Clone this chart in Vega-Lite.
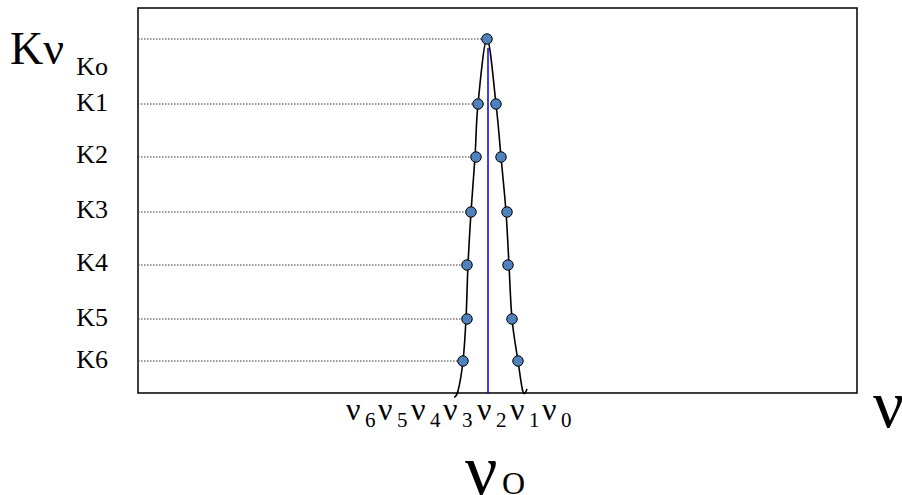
{
  "$schema": "https://vega.github.io/schema/vega-lite/v6.json",
  "width": 719,
  "height": 385,
  "autosize": {"type": "none"},
  "padding": {"left": 138, "top": 8, "right": 45, "bottom": 102},
  "background": "white",
  "config": {"view": {"stroke": "black", "strokeWidth": 1.5}, "text": {"font": "'Liberation Serif', 'DejaVu Serif', serif"}},
  "encoding": {
    "x": {"field": "x", "type": "quantitative", "scale": {"domain": [0, 719], "nice": false, "zero": false}, "axis": null},
    "y": {"field": "y", "type": "quantitative", "scale": {"domain": [0, 385], "nice": false, "zero": false}, "axis": null}
  },
  "datasets": {
    "levels": [
      {"k": "Ko", "x": 0, "y": 354, "xend": 344},
      {"k": "K1", "x": 0, "y": 289, "xend": 335},
      {"k": "K2", "x": 0, "y": 236, "xend": 333},
      {"k": "K3", "x": 0, "y": 181, "xend": 328},
      {"k": "K4", "x": 0, "y": 128, "xend": 324},
      {"k": "K5", "x": 0, "y": 74, "xend": 324},
      {"k": "K6", "x": 0, "y": 32, "xend": 320}
    ],
    "points": [
      {"x": 349, "y": 354},
      {"x": 340, "y": 289}, {"x": 358, "y": 289},
      {"x": 338, "y": 236}, {"x": 363, "y": 236},
      {"x": 333, "y": 181}, {"x": 369, "y": 181},
      {"x": 329, "y": 128}, {"x": 370, "y": 128},
      {"x": 329, "y": 74}, {"x": 374, "y": 74},
      {"x": 325, "y": 32}, {"x": 380, "y": 32}
    ],
    "curve": [
      {"o": 0, "x": 316, "y": -4},
      {"o": 1, "x": 320, "y": 2},
      {"o": 2, "x": 325, "y": 32},
      {"o": 3, "x": 328, "y": 74},
      {"o": 4, "x": 330, "y": 128},
      {"o": 5, "x": 333, "y": 181},
      {"o": 6, "x": 337, "y": 236},
      {"o": 7, "x": 340, "y": 289},
      {"o": 8, "x": 349, "y": 354},
      {"o": 9, "x": 358, "y": 289},
      {"o": 10, "x": 363, "y": 236},
      {"o": 11, "x": 368, "y": 181},
      {"o": 12, "x": 371, "y": 128},
      {"o": 13, "x": 374, "y": 74},
      {"o": 14, "x": 380, "y": 32},
      {"o": 15, "x": 385, "y": 1},
      {"o": 16, "x": 389, "y": 4}
    ],
    "kLabels": [
      {"t": "Ko", "x": -30, "y": 318},
      {"t": "K1", "x": -30, "y": 282},
      {"t": "K2", "x": -30, "y": 230},
      {"t": "K3", "x": -30, "y": 175},
      {"t": "K4", "x": -30, "y": 122},
      {"t": "K5", "x": -30, "y": 67},
      {"t": "K6", "x": -30, "y": 25}
    ],
    "nu": [
      {"t": "ν", "n": "6", "x": 208, "y": -27, "ys": -34},
      {"t": "ν", "n": "5", "x": 240, "y": -27, "ys": -34},
      {"t": "ν", "n": "4", "x": 273, "y": -27, "ys": -34},
      {"t": "ν", "n": "3", "x": 305, "y": -27, "ys": -34},
      {"t": "ν", "n": "2", "x": 339, "y": -27, "ys": -34},
      {"t": "ν", "n": "1", "x": 372, "y": -27, "ys": -34},
      {"t": "ν", "n": "0", "x": 404, "y": -27, "ys": -34}
    ]
  },
  "layer": [
    {
      "data": {"name": "levels"},
      "mark": {"type": "rule", "strokeDash": [1.5, 1.5], "color": "#333333", "strokeWidth": 1},
      "encoding": {
        "x2": {"field": "xend"}
      }
    },
    {
      "data": {"values": [{"x": 350, "y": 0, "ytop": 345}]},
      "mark": {"type": "rule", "color": "#0000ee", "strokeWidth": 1.5},
      "encoding": {
        "y2": {"field": "ytop"}
      }
    },
    {
      "data": {"name": "curve"},
      "mark": {"type": "line", "color": "black", "strokeWidth": 1.6, "interpolate": "cardinal", "clip": false},
      "encoding": {
        "order": {"field": "o", "type": "quantitative"}
      }
    },
    {
      "data": {"name": "points"},
      "mark": {"type": "point", "shape": "circle", "filled": true, "fill": "#4f81bd", "stroke": "black", "strokeWidth": 1, "size": 110, "opacity": 1},
      "encoding": {}
    },
    {
      "data": {"name": "kLabels"},
      "mark": {"type": "text", "fontSize": 26, "align": "right", "baseline": "alphabetic", "color": "black"},
      "encoding": {
        "text": {"field": "t"}
      }
    },
    {
      "data": {"values": [{"t": "Kν", "x": -128, "y": 329}]},
      "mark": {"type": "text", "fontSize": 46, "align": "left", "baseline": "alphabetic", "color": "black"},
      "encoding": {
        "text": {"field": "t"}
      }
    },
    {
      "data": {"name": "nu"},
      "mark": {"type": "text", "fontSize": 32, "align": "left", "baseline": "alphabetic", "color": "black"},
      "encoding": {
        "text": {"field": "t"}
      }
    },
    {
      "data": {"name": "nu"},
      "mark": {"type": "text", "fontSize": 21, "align": "left", "baseline": "alphabetic", "color": "black", "dx": 19},
      "encoding": {
        "y": {"field": "ys", "type": "quantitative"},
        "text": {"field": "n"}
      }
    },
    {
      "data": {"values": [{"t": "ν", "x": 735, "y": -34}]},
      "mark": {"type": "text", "fontSize": 68, "align": "left", "baseline": "alphabetic", "color": "black"},
      "encoding": {
        "text": {"field": "t"}
      }
    },
    {
      "data": {"values": [{"t": "ν", "x": 327, "y": -101}]},
      "mark": {"type": "text", "fontSize": 72, "align": "left", "baseline": "alphabetic", "color": "black"},
      "encoding": {
        "text": {"field": "t"}
      }
    },
    {
      "data": {"values": [{"t": "O", "x": 364, "y": -101}]},
      "mark": {"type": "text", "fontSize": 32, "align": "left", "baseline": "alphabetic", "color": "black"},
      "encoding": {
        "text": {"field": "t"}
      }
    }
  ]
}
